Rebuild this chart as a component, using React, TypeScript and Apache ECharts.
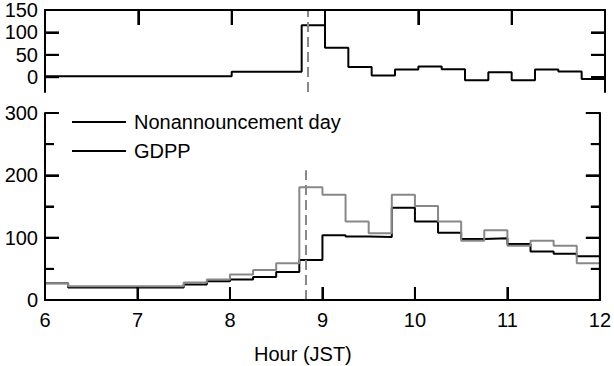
import React, { useEffect, useRef } from "react";
import * as echarts from "echarts";

// 15-minute bin edges (hour, JST)
const binEdges = [6, 6.25, 6.5, 6.75, 7, 7.25, 7.5, 7.75, 8, 8.25, 8.5, 8.75, 9, 9.25, 9.5, 9.75, 10, 10.25, 10.5, 10.75, 11, 11.25, 11.5, 11.75, 12];

// Bottom panel: counts per bin
const nonAnnouncement = [27, 20, 20, 20, 20, 20, 25, 30, 33, 37, 45, 64, 104, 102, 101, 148, 126, 108, 98, 99, 90, 78, 74, 70];
const gdpp = [27, 22, 22, 22, 22, 22, 28, 33, 41, 48, 59, 181, 169, 126, 107, 169, 151, 126, 95, 112, 87, 95, 87, 59];

// Top panel: difference per bin
const difference = [2, 2, 2, 2, 2, 2, 2, 2, 12, 12, 12, 116, 66, 23, 4, 17, 24, 18, -7, 11, -7, 17, 13, -4];

const announceHour = 8.82;
const topTicks = [0, 50, 100, 150];
const bottomMajorTicks = [0, 100, 200, 300];
const bottomMinorTicks = [50, 150, 250];
const hourTicks = [7, 8, 9, 10, 11];
const xTickLabels = ["6", "7", "8", "9", "10", "11", "12"];

const X_MIN = 6;
const X_MAX = 12;
const TOP_MIN = -33;
const TOP_MAX = 150;
const BOT_MIN = 0;
const BOT_MAX = 300;

const FONT = "Liberation Sans, Arial, Helvetica, sans-serif";

function stepData(vals: number[]) {
  return binEdges.map((h, i) => [h, vals[Math.min(i, vals.length - 1)]]);
}

const mkLine = () => ({ show: true, onZero: false, lineStyle: { color: "#000", width: 2 } });
const mkTick = (len: number, extra: any = {}) => ({
  show: true,
  inside: true,
  length: len,
  lineStyle: { color: "#000", width: 2 },
  ...extra,
});

const seg = (p1: number[], p2: number[]) => ({
  type: "line",
  shape: { x1: p1[0], y1: p1[1], x2: p2[0], y2: p2[1] },
  style: { stroke: "#000", lineWidth: 2 },
  silent: true,
});

// Frame of the upper panel drawn through the panel's own scales
function topFrame(_params: any, api: any) {
  const c = (x: number, y: number) => api.coord([x, y]);
  const ch: any[] = [];
  ch.push(seg(c(X_MIN, TOP_MAX), c(X_MAX, TOP_MAX)));
  ch.push(seg(c(X_MIN, TOP_MAX), c(X_MIN, TOP_MIN)));
  ch.push(seg(c(X_MAX, TOP_MAX), c(X_MAX, TOP_MIN)));
  hourTicks.forEach((h) => {
    const p = c(h, TOP_MAX);
    ch.push(seg(p, [p[0], p[1] + 15]));
  });
  topTicks.forEach((v) => {
    const p = c(X_MIN, v);
    ch.push(seg(p, [p[0] + 14, p[1]]));
    const q = c(X_MAX, v);
    ch.push(seg(q, [q[0] - 14, q[1]]));
  });
  return { type: "group", children: ch };
}

// Frame of the lower panel drawn through the panel's own scales
function bottomFrame(_params: any, api: any) {
  const c = (x: number, y: number) => api.coord([x, y]);
  const ch: any[] = [];
  ch.push(seg(c(X_MIN, BOT_MIN), c(X_MAX, BOT_MIN)));
  ch.push(seg(c(X_MIN, BOT_MIN), c(X_MIN, BOT_MAX)));
  ch.push(seg(c(X_MAX, BOT_MIN), c(X_MAX, BOT_MAX)));
  hourTicks.forEach((h) => {
    const p = c(h, BOT_MIN);
    ch.push(seg(p, [p[0], p[1] - 13]));
  });
  bottomMajorTicks.forEach((v) => {
    const p = c(X_MIN, v);
    ch.push(seg(p, [p[0] + 14, p[1]]));
    const q = c(X_MAX, v);
    ch.push(seg(q, [q[0] - 14, q[1]]));
  });
  bottomMinorTicks.forEach((v) => {
    const p = c(X_MIN, v);
    ch.push(seg(p, [p[0] + 9, p[1]]));
    const q = c(X_MAX, v);
    ch.push(seg(q, [q[0] - 9, q[1]]));
  });
  return { type: "group", children: ch };
}

function buildOption() {
  const grayDash = { color: "#888", width: 2, type: [10, 5] as any };
  return {
    animation: false,
    textStyle: { fontFamily: FONT },
    title: {
      text: "Hour (JST)",
      left: 254,
      top: 344,
      padding: 0,
      textStyle: { fontFamily: FONT, fontSize: 20, fontWeight: "normal", color: "#000" },
    },
    legend: {
      orient: "vertical",
      left: 72,
      top: 112,
      padding: 0,
      icon: "rect",
      itemWidth: 54,
      itemHeight: 2,
      itemGap: 9,
      textStyle: { fontFamily: FONT, fontSize: 20, color: "#000", lineHeight: 20, padding: [0, 0, 0, 3] },
      data: [
        { name: "Nonannouncement day", itemStyle: { color: "#000" } },
        { name: "GDPP", itemStyle: { color: "#000" } },
      ],
    },
    grid: [
      { left: 45, right: 9, top: 10, height: 82 },
      { left: 45, right: 9, top: 113, height: 187 },
    ],
    xAxis: [
      {
        gridIndex: 0, type: "value", min: X_MIN, max: X_MAX, interval: 1, position: "top",
        axisLine: mkLine(), axisTick: mkTick(15), axisLabel: { show: false }, splitLine: { show: false },
      },
      {
        gridIndex: 1, type: "value", min: X_MIN, max: X_MAX, interval: 1, position: "bottom",
        axisLine: mkLine(), axisTick: mkTick(13),
        axisLabel: {
          show: true, margin: 10, fontSize: 20, color: "#000", fontFamily: FONT,
          formatter: (v: number) => xTickLabels[Math.round(v) - 6] ?? "",
        },
        splitLine: { show: false },
      },
    ],
    yAxis: [
      {
        gridIndex: 0, type: "value", min: TOP_MIN, max: TOP_MAX, position: "left",
        axisLine: mkLine(), axisTick: mkTick(14, { customValues: topTicks }),
        axisLabel: { show: true, customValues: topTicks, fontSize: 20, color: "#000", fontFamily: FONT, margin: 7 },
        splitLine: { show: false },
      },
      {
        gridIndex: 0, type: "value", min: TOP_MIN, max: TOP_MAX, position: "right",
        axisLine: mkLine(), axisTick: mkTick(14, { customValues: topTicks }),
        axisLabel: { show: false }, splitLine: { show: false },
      },
      {
        gridIndex: 1, type: "value", min: BOT_MIN, max: BOT_MAX, interval: 100, position: "left",
        axisLine: mkLine(), axisTick: mkTick(14),
        minorTick: { show: true, splitNumber: 2, length: 9, lineStyle: { color: "#000", width: 2 } },
        axisLabel: { show: true, fontSize: 20, color: "#000", fontFamily: FONT, margin: 7 },
        splitLine: { show: false },
      },
      {
        gridIndex: 1, type: "value", min: BOT_MIN, max: BOT_MAX, interval: 100, position: "right",
        axisLine: mkLine(), axisTick: mkTick(14),
        minorTick: { show: true, splitNumber: 2, length: 9, lineStyle: { color: "#000", width: 2 } },
        axisLabel: { show: false }, splitLine: { show: false },
      },
    ],
    series: [
      {
        type: "custom", xAxisIndex: 0, yAxisIndex: 0, silent: true, clip: false, z: 5,
        data: [[X_MIN, 0]], encode: { x: 0, y: 1 }, renderItem: topFrame,
      },
      {
        type: "custom", xAxisIndex: 1, yAxisIndex: 2, silent: true, clip: false, z: 5,
        data: [[X_MIN, 0]], encode: { x: 0, y: 1 }, renderItem: bottomFrame,
      },
      {
        name: "Difference", type: "line", xAxisIndex: 0, yAxisIndex: 0, step: "end", symbol: "none",
        data: stepData(difference), lineStyle: { color: "#000", width: 2 },
        markLine: { silent: true, symbol: "none", label: { show: false }, lineStyle: grayDash, data: [{ xAxis: announceHour }] },
      },
      {
        name: "Nonannouncement day", type: "line", xAxisIndex: 1, yAxisIndex: 2, step: "end", symbol: "none",
        data: stepData(nonAnnouncement), lineStyle: { color: "#000", width: 2 }, itemStyle: { color: "#000" },
      },
      {
        name: "GDPP", type: "line", xAxisIndex: 1, yAxisIndex: 2, step: "end", symbol: "none",
        data: stepData(gdpp), lineStyle: { color: "#888", width: 2 }, itemStyle: { color: "#888" },
        markLine: {
          silent: true, symbol: "none", label: { show: false }, lineStyle: grayDash,
          data: [[{ coord: [announceHour, 0] }, { coord: [announceHour, 208] }]],
        },
      },
    ],
  };
}

function Chart() {
  const ref = useRef<HTMLDivElement>(null);
  useEffect(() => {
    const chart = echarts.init(ref.current!, null, { renderer: "svg" });
    chart.setOption(buildOption() as any);
    return () => chart.dispose();
  }, []);
  return <div ref={ref} style={{ width: 614, height: 366 }} />;
}

export default function App() {
  return (
    <div style={{ position: "absolute", left: 0, top: 0, width: 614, height: 366 }}>
      <Chart />
    </div>
  );
}
